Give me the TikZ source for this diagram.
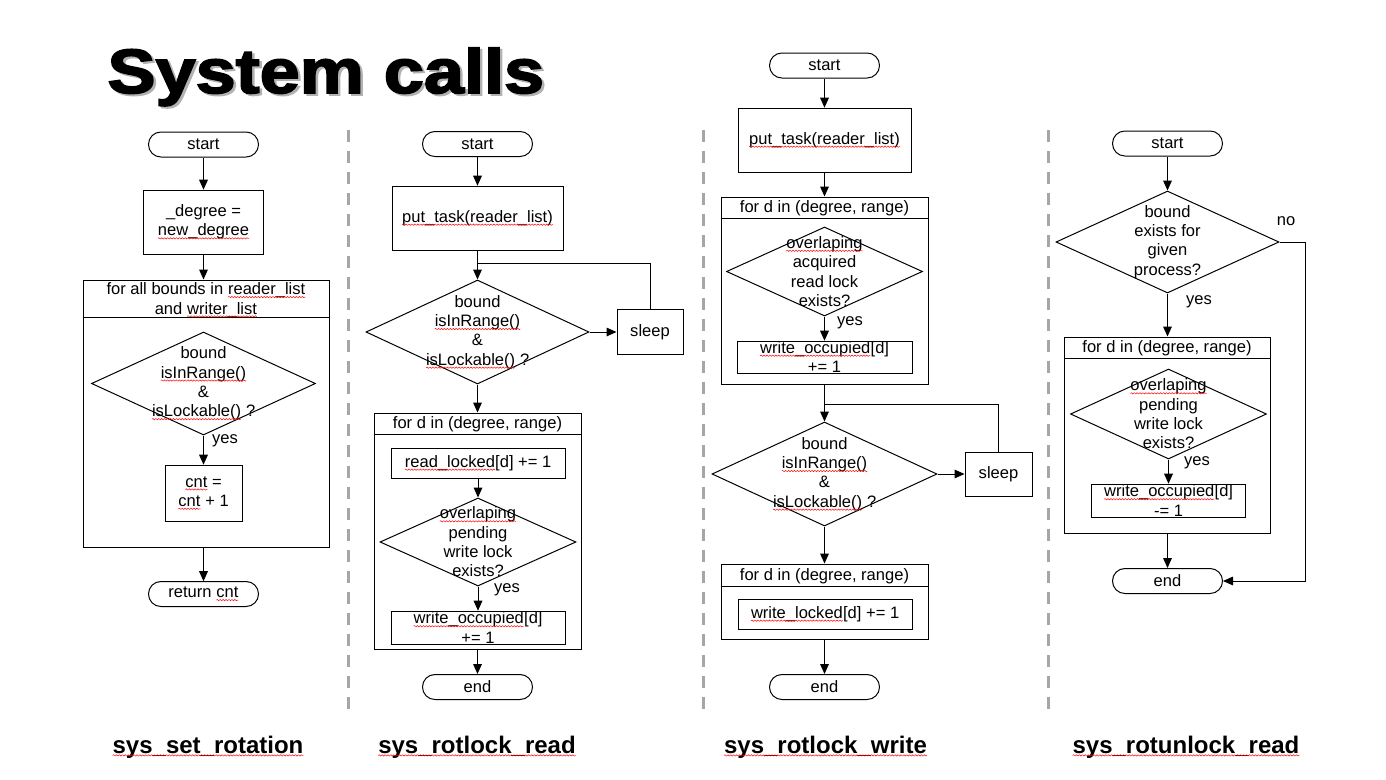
\documentclass[tikz,border=0pt]{standalone}
\usepackage{fontspec}
\setmainfont{Liberation Sans}
\newfontfamily\titlefont[FakeBold=2.5]{Liberation Sans}
\usetikzlibrary{shapes.geometric,arrows.meta,calc,decorations.pathmorphing}
\definecolor{sepgray}{HTML}{A6A6A6}
\newcommand\redsq[1]{\tikz[baseline=(sqw.base),x=1pt,y=1pt,sharp corners,line width=0.35pt]{\node[rectangle,draw=none,fill=none,inner sep=0pt,outer sep=0pt,minimum width=0pt,minimum height=0pt,anchor=base] (sqw) {#1};\draw[red,decorate,decoration={snake,amplitude=0.5pt,segment length=2.2pt}] ([yshift=-1.8pt]sqw.base west) -- ([yshift=-1.8pt]sqw.base east);}}
\begin{document}
\begin{tikzpicture}[x=0.75pt,y=-0.75pt,line width=0.75pt,
  font=\fontsize{12.4}{14.5}\selectfont,
  sz/.style 2 args={minimum width=#1*0.75pt,minimum height=#2*0.75pt},
  arr/.style={-{Triangle[length=7.5pt,width=6.5pt]}},
  proc/.style={draw,rectangle,inner sep=0pt,align=center},
  term/.style={draw,rectangle,rounded corners=9.3pt,sz={110}{25},inner sep=0pt},
  dec/.style={draw,diamond,inner sep=0pt},
  loopbox/.style={draw,rectangle,inner sep=0pt},
  lbl/.style={inner sep=0pt,align=center},
  sep/.style={draw=sepgray,line width=2.25pt,dash pattern=on 9pt off 6.75pt},
  sysname/.style={font=\fontsize{18}{20}\selectfont\bfseries,inner sep=0pt,anchor=base}]
\useasboundingbox (0,0) rectangle (1386,779);

% title
\node[anchor=base west,inner sep=0pt,text=black!30] (tsh) at (109.5,95) {\titlefont\bfseries\fontsize{47}{50}\selectfont\scalebox{1.15}[1]{System calls}};
\node[anchor=base west,inner sep=0pt] (title) at (107,93) {\titlefont\bfseries\fontsize{47}{50}\selectfont\scalebox{1.15}[1]{System calls}};

% separators
\draw[sep] (348.3,130) -- (348.3,710);
\draw[sep] (703,130) -- (703,710);
\draw[sep] (1048,130) -- (1048,710);

% ---------- column 1 ----------
\node[term] (s1) at (203.5,144.5) {start};
\node[proc,sz={120}{64}] (a1) at (203.5,222) {\_degree =\\\redsq{new\_degree}};
\node[loopbox,sz={246}{267}] (L1) at (206,413.5) {};
\draw ($(L1.north west)+(0,38)$) -- ($(L1.north east)+(0,38)$);
\node[lbl] (h1) at (206,300) {for all bounds in \redsq{reader\_list}\\and \redsq{writer\_list}};
\node[dec,sz={224}{103},label={[lbl]center:{bound\\\redsq{isInRange()}\\\&\\\redsq{isLockable()} ?}}] (d1) at (203.5,383.5) {};
\node[lbl] (y1) at (225,441) {yes};
\node[proc,sz={77}{56}] (c1) at (203.5,493) {\redsq{cnt} =\\\redsq{cnt} + 1};
\node[term] (r1) at (203.5,594) {return \redsq{cnt}};
\draw[arr] (s1.south) -- (a1.north);
\draw[arr] (a1.south) -- (a1.south |- L1.north);
\draw[arr] (d1.south) -- (c1.north);
\draw[arr] (r1.north |- L1.south) -- (r1.north);

% ---------- column 2 ----------
\node[term] (s2) at (477.5,144) {start};
\node[proc,sz={171}{64}] (a2) at (477.5,218) {\redsq{put\_task(reader\_list)}};
\coordinate (j2) at (477.5,263);
\node[dec,sz={223}{104},label={[lbl]center:{bound\\\redsq{isInRange()}\\\&\\\redsq{isLockable()} ?}}] (d2) at (477.5,332) {};
\node[proc,sz={66}{45}] (z2) at (650,332) {sleep};
\node[loopbox,sz={207}{236}] (L2) at (477.5,531) {};
\draw ($(L2.north west)+(0,22)$) -- ($(L2.north east)+(0,22)$);
\node[lbl] (h2) at (477.5,424.5) {for d in (degree, range)};
\node[proc,sz={174}{30}] (b2) at (478,463) {\redsq{read\_locked}[d] += 1};
\node[dec,sz={196}{88},label={[lbl]center:{\redsq{overlaping}\\pending\\write lock\\exists?}}] (q2) at (478,542) {};
\node[lbl] (y2) at (507,590) {yes};
\node[proc,sz={174}{33}] (w2) at (478,627.5) {\redsq{write\_occupied}[d]\\+= 1};
\node[term] (n2) at (477.5,687) {end};
\draw[arr] (s2.south) -- (a2.north);
\draw[arr] (a2.south) -- (d2.north);
\draw (z2.north) |- (j2);
\draw[arr] (d2.east) -- (z2.west);
\draw[arr] (d2.south) -- (d2.south |- L2.north);
\draw[arr] (b2.south) -- (q2.north);
\draw[arr] (q2.south) -- (w2.north);
\draw[arr] (n2.north |- L2.south) -- (n2.north);

% ---------- column 3 ----------
\node[term] (s3) at (824.5,65.5) {start};
\node[proc,sz={173}{64}] (a3) at (824.5,140) {\redsq{put\_task(reader\_list)}};
\node[loopbox,sz={207}{187}] (L3) at (824.5,290.5) {};
\draw ($(L3.north west)+(0,22)$) -- ($(L3.north east)+(0,22)$);
\node[lbl] (h3) at (824.5,208.5) {for d in (degree, range)};
\node[dec,sz={196}{89},label={[lbl]center:{\redsq{overlaping}\\acquired\\read lock\\exists?}}] (q3) at (824.5,271.5) {};
\node[lbl] (y3) at (850,323) {yes};
\node[proc,sz={175}{32}] (w3) at (824.5,357) {\redsq{write\_occupied}[d]\\+= 1};
\coordinate (j3) at (824.5,404);
\node[dec,sz={225}{104},label={[lbl]center:{bound\\\redsq{isInRange()}\\\&\\\redsq{isLockable()} ?}}] (d3) at (824.5,474) {};
\node[proc,sz={67}{44}] (z3) at (998.5,474) {sleep};
\node[loopbox,sz={207}{75}] (M3) at (824.5,601.5) {};
\draw ($(M3.north west)+(0,23)$) -- ($(M3.north east)+(0,23)$);
\node[lbl] (h3b) at (824.5,576) {for d in (degree, range)};
\node[proc,sz={174}{30}] (b3) at (825,614) {\redsq{write\_locked}[d] += 1};
\node[term] (n3) at (824.5,687) {end};
\draw[arr] (s3.south) -- (a3.north);
\draw[arr] (a3.south) -- (a3.south |- L3.north);
\draw[arr] (q3.south) -- (w3.north);
\draw[arr] (d3.north |- L3.south) -- (d3.north);
\draw (z3.north) |- (j3);
\draw[arr] (d3.east) -- (z3.west);
\draw[arr] (d3.south) -- (d3.south |- M3.north);
\draw[arr] (n3.north |- M3.south) -- (n3.north);

% ---------- column 4 ----------
\node[term] (s4) at (1167.5,143.5) {start};
\node[dec,sz={223}{102},label={[lbl]center:{bound\\exists for\\given\\process?}}] (d4) at (1167.5,242) {};
\node[lbl] (no4) at (1286,221) {no};
\node[lbl] (y4) at (1199,302) {yes};
\node[loopbox,sz={206}{196}] (L4) at (1167,435) {};
\draw ($(L4.north west)+(0,22)$) -- ($(L4.north east)+(0,22)$);
\node[lbl] (h4) at (1167,348.5) {for d in (degree, range)};
\node[dec,sz={196}{90},label={[lbl]center:{\redsq{overlaping}\\pending\\write lock\\exists?}}] (q4) at (1168.5,414) {};
\node[lbl] (y4b) at (1197,463) {yes};
\node[proc,sz={154}{33}] (w4) at (1168.5,500.5) {\redsq{write\_occupied}[d]\\-= 1};
\node[term] (n4) at (1167.5,581) {end};
\coordinate (k4) at (1305,400);
\draw[arr] (s4.south) -- (d4.north);
\draw[arr] (d4.south) -- (d4.south |- L4.north);
\draw[arr] (q4.south) -- (w4.north);
\draw[arr] (n4.north |- L4.south) -- (n4.north);
\draw[arr] (d4.east) -| (k4) |- (n4.east);

% ---------- system call names ----------
\node[sysname] (t1) at (208,753) {\redsq{sys\_set\_rotation}};
\node[sysname] (t2) at (477,753) {\redsq{sys\_rotlock\_read}};
\node[sysname] (t3) at (825.5,753) {\redsq{sys\_rotlock\_write}};
\node[sysname] (t4) at (1186,753) {\redsq{sys\_rotunlock\_read}};
\end{tikzpicture}
\end{document}
